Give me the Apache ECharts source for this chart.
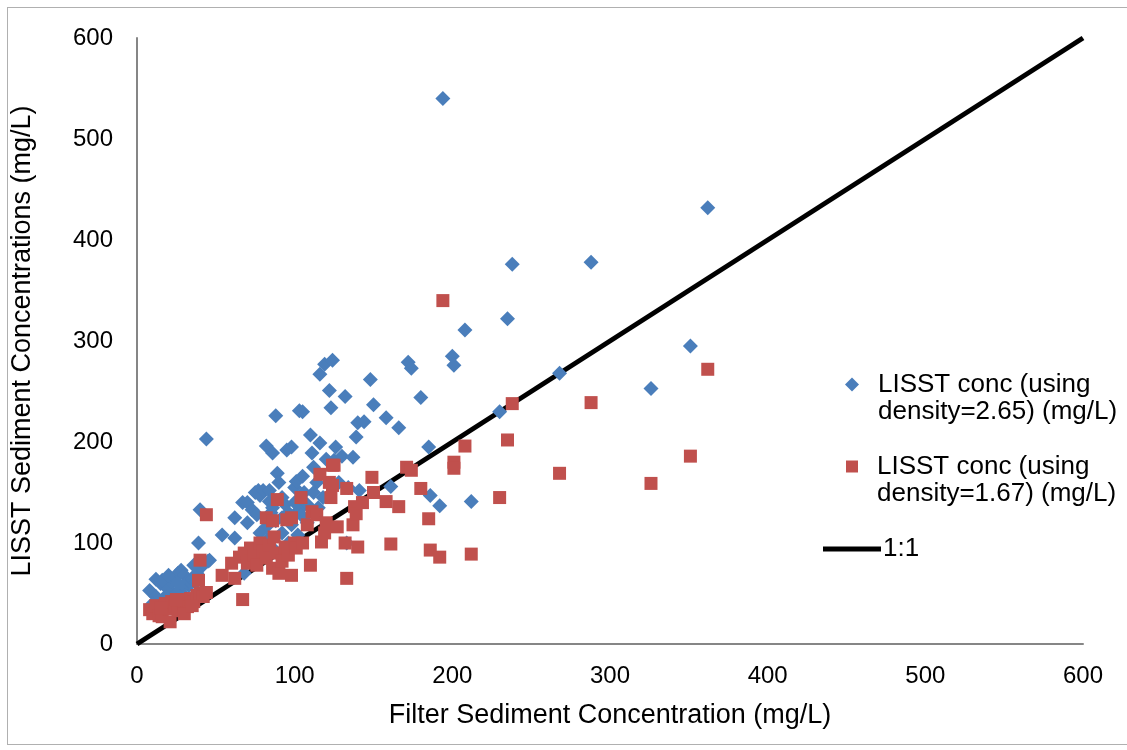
<!DOCTYPE html>
<html>
<head>
<meta charset="utf-8">
<script src="https://cdn.jsdelivr.net/npm/echarts@6/dist/echarts.min.js"></script>
<style>
html,body{margin:0;padding:0;background:#fff;}
#frame{position:absolute;left:7px;top:7px;width:1130px;height:738px;border:1px solid #b0b0b0;box-sizing:border-box;}
#main{position:absolute;left:0;top:0;width:1127px;height:750px;}
</style>
</head>
<body>
<div id="frame"></div>
<div id="main"></div>
<script>
// Tick labels
const xTicks = [0, 100, 200, 300, 400, 500, 600];
const yTicks = [0, 100, 200, 300, 400, 500, 600];

// Series names
const nameBlue = 'LISST conc (using\ndensity=2.65) (mg/L)';
const nameRed = 'LISST conc (using\ndensity=1.67) (mg/L)';
const nameLine = '1:1';

// Blue diamonds: [filter conc, LISST conc density 2.65]
const blueData = [
  [8,53],[12,64],[15,60],[18,57],[20,55],[22,62],[24,66],[26,70],[28,73],[30,68],
  [32,62],[33,58],[35,64],[28,55],[25,50],[18,47],[14,42],[22,45],[30,48],[38,70],
  [40,75],[42,80],[45,82],[36,78],[16,63],[20,68],[26,60],[12,47],[10,40],[38,62],
  [39,100],[40,133],[43,81],[46,83],[54,108],[62,125],[62,105],[67,140],[70,140],[68,70],
  [73,133],[75,150],[77,152],[78,147],[80,152],[84,152],[82,116],[84,141],[85,130],[86,135],
  [88,226],[88,122],[89,169],[90,160],[92,125],[94,138],[95,192],[98,195],[82,196],[86,189],
  [97,128],[100,155],[101,161],[103,133],[103,231],[105,166],[105,230],[106,150],[108,138],[110,207],
  [111,189],[112,175],[114,160],[116,199],[116,267],[119,277],[120,183],[122,251],[123,234],[124,281],
  [125,182],[126,195],[128,160],[130,186],[132,245],[133,100],[134,155],[137,185],[139,205],[140,219],
  [141,152],[144,220],[148,262],[150,237],[158,224],[161,156],[166,214],[172,279],[174,273],[180,244],
  [185,195],[186,147],[192,137],[194,540],[200,285],[201,276],[208,311],[212,141],[230,230],[235,322],
  [238,376],[268,268],[288,378],[326,253],[351,295],[362,432],
  [70,120],[76,128],[78,110],[92,145],[96,130],[98,118],[100,140],[104,128],[108,120],[112,150],
  [115,135],[118,145],[96,100],[92,110],[86,95],[102,108],[84,105],[80,90],[44,203]
];

// Red squares: [filter conc, LISST conc density 1.67]
const redData = [
  [8,34],[10,30],[12,38],[14,28],[16,27],[18,40],[20,35],[21,22],[22,42],[24,38],
  [26,33],[28,44],[30,40],[32,37],[34,45],[36,42],[38,48],[40,50],[42,47],[44,51],
  [15,36],[25,44],[30,30],[35,38],[39,63],[40,83],[44,128],[54,68],[62,65],[67,44],
  [60,80],[65,86],[68,90],[70,80],[72,95],[74,88],[76,78],[78,100],[80,92],[82,85],
  [84,98],[86,75],[87,106],[88,90],[90,70],[92,82],[94,96],[96,88],[98,68],[100,100],
  [101,95],[82,125],[86,122],[89,143],[95,123],[98,125],[104,145],[105,100],[108,118],[110,78],
  [111,131],[114,128],[116,168],[117,101],[119,110],[120,120],[122,160],[124,177],[124,157],[123,145],
  [125,177],[127,116],[132,100],[133,65],[133,154],[137,118],[138,136],[139,129],[140,96],[143,140],
  [149,165],[150,150],[158,141],[161,99],[166,136],[171,175],[174,172],[180,154],[185,124],[186,93],
  [192,86],[194,340],[201,180],[201,174],[208,196],[212,89],[230,145],[235,202],[238,238],[268,169],
  [288,239],[326,159],[351,186],[362,272]
];

// 1:1 reference line
const lineData = [[0,0],[600,600]];

const chart = echarts.init(document.getElementById('main'), null, {renderer:'canvas'});
const font = 'Liberation Sans, Arial, sans-serif';
const legendText = {fontSize:26, fontFamily:font, color:'#000', lineHeight:27, padding:[0,0,0,14]};
chart.setOption({
  animation:false,
  backgroundColor:'transparent',
  grid:{left:137, right:44, top:38, bottom:106, containLabel:false},
  xAxis:{
    type:'value', min:xTicks[0], max:xTicks[xTicks.length-1], interval:100,
    name:'Filter Sediment Concentration (mg/L)', nameLocation:'middle', nameGap:58,
    nameTextStyle:{fontSize:27, fontFamily:font, color:'#000'},
    axisLine:{show:true, lineStyle:{color:'#868686', width:2}},
    axisTick:{show:false}, splitLine:{show:false},
    axisLabel:{fontSize:24, fontFamily:font, color:'#000', margin:20}
  },
  yAxis:{
    type:'value', min:yTicks[0], max:yTicks[yTicks.length-1], interval:100,
    name:'LISST Sediment Concentrations (mg/L)', nameLocation:'middle', nameGap:101,
    nameTextStyle:{fontSize:27, fontFamily:font, color:'#000'},
    axisLine:{show:true, lineStyle:{color:'#868686', width:2}},
    axisTick:{show:false}, splitLine:{show:false},
    axisLabel:{fontSize:24, fontFamily:font, color:'#000', margin:24}
  },
  legend:[
    {data:[{name:nameBlue, icon:'diamond'}], left:840, top:339, orient:'vertical',
     itemWidth:14, itemHeight:14, itemGap:10, formatter:n=>'\n'+n, textStyle:legendText},
    {data:[{name:nameRed, icon:'rect'}], left:841, top:421, orient:'vertical',
     itemWidth:12, itemHeight:12, itemGap:10, formatter:n=>'\n'+n, textStyle:legendText},
    {data:[{name:nameLine, icon:'rect'}], left:818, top:531, orient:'vertical',
     itemWidth:58, itemHeight:5, itemGap:0,
     textStyle:{fontSize:26, fontFamily:font, color:'#000', padding:[0,0,0,-3]}}
  ],
  series:[
    {name:nameLine, type:'line', data:lineData, showSymbol:false, symbol:'none',
     lineStyle:{color:'#000', width:5}, itemStyle:{color:'#000'}, z:1},
    {name:nameBlue, type:'scatter', data:blueData, symbol:'diamond', symbolSize:15,
     itemStyle:{color:'#4a7ebb', opacity:1}, z:2},
    {name:nameRed, type:'scatter', data:redData, symbol:'rect', symbolSize:13,
     itemStyle:{color:'#c0504d', opacity:1}, z:3}
  ]
});
</script>
</body>
</html>
